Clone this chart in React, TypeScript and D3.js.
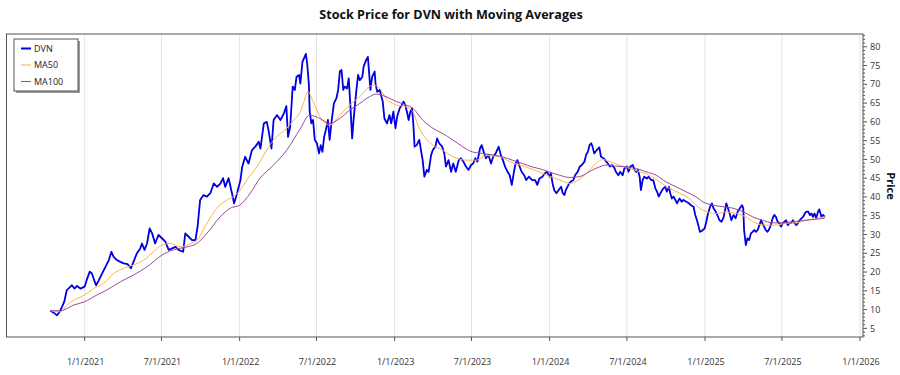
import React from 'react';
import * as d3 from 'd3';

const TITLE = 'Stock Price for DVN with Moving Averages';
const Y_TITLE = 'Price';
const X_DOMAIN = ['2020-07-01', '2026-01-08'];
const X_TICKS = ['2021-01-01', '2021-07-01', '2022-01-01', '2022-07-01', '2023-01-01', '2023-07-01', '2024-01-01', '2024-07-01', '2025-01-01', '2025-07-01', '2026-01-01'];
const Y_DOMAIN = [2.7, 83.4];
const Y_MAJOR = [5, 10, 15, 20, 25, 30, 35, 40, 45, 50, 55, 60, 65, 70, 75, 80];
const LEGEND_NAMES = ['DVN', 'MA50', 'MA100'];

const DVN: [string, number][] = [
  ['2020-10-12', 9.7], ['2020-10-20', 9.2], ['2020-10-28', 8.5], ['2020-11-03', 9.4], ['2020-11-09', 10.8],
  ['2020-11-14', 12.1], ['2020-11-20', 15.2], ['2020-11-27', 15.9], ['2020-12-02', 16.5], ['2020-12-08', 15.6],
  ['2020-12-14', 16.3], ['2020-12-22', 15.6], ['2021-01-01', 16.1], ['2021-01-06', 17.9], ['2021-01-13', 20.1],
  ['2021-01-18', 19.6], ['2021-01-24', 17.7], ['2021-01-28', 16.5], ['2021-02-03', 17.7], ['2021-02-11', 19.6],
  ['2021-02-19', 21.4], ['2021-02-27', 23.2], ['2021-03-05', 25.4], ['2021-03-10', 24.1], ['2021-03-18', 23.2],
  ['2021-03-26', 22.7], ['2021-04-03', 22.3], ['2021-04-12', 22.1], ['2021-04-20', 21.0], ['2021-04-26', 22.7],
  ['2021-05-04', 25.0], ['2021-05-12', 26.3], ['2021-05-16', 27.6], ['2021-05-22', 25.9], ['2021-05-28', 27.6],
  ['2021-06-03', 31.6], ['2021-06-09', 30.3], ['2021-06-16', 27.6], ['2021-06-24', 29.9], ['2021-07-02', 29.0],
  ['2021-07-10', 28.1], ['2021-07-18', 25.9], ['2021-07-26', 26.3], ['2021-08-03', 26.7], ['2021-08-10', 25.9],
  ['2021-08-21', 25.4], ['2021-08-26', 30.3], ['2021-09-03', 29.4], ['2021-09-11', 28.5], ['2021-09-19', 28.5],
  ['2021-09-24', 32.1], ['2021-09-30', 39.2], ['2021-10-08', 40.5], ['2021-10-16', 40.1], ['2021-10-24', 41.0],
  ['2021-11-01', 43.6], ['2021-11-09', 42.7], ['2021-11-17', 43.6], ['2021-11-23', 45.0], ['2021-11-28', 42.7],
  ['2021-12-06', 45.0], ['2021-12-14', 41.0], ['2021-12-19', 38.3], ['2021-12-26', 41.0], ['2022-01-03', 44.5],
  ['2022-01-07', 48.0], ['2022-01-14', 50.7], ['2022-01-22', 48.9], ['2022-01-30', 52.5], ['2022-02-07', 53.4],
  ['2022-02-15', 54.7], ['2022-02-19', 52.9], ['2022-02-27', 59.6], ['2022-03-06', 60.0], ['2022-03-10', 57.8],
  ['2022-03-17', 52.9], ['2022-03-22', 60.5], ['2022-03-30', 61.8], ['2022-04-07', 60.5], ['2022-04-15', 62.2],
  ['2022-04-21', 64.2], ['2022-04-25', 56.0], ['2022-04-30', 58.7], ['2022-05-06', 69.4], ['2022-05-11', 68.5],
  ['2022-05-15', 72.0], ['2022-05-21', 72.5], ['2022-05-24', 70.2], ['2022-05-29', 76.0], ['2022-06-06', 78.1],
  ['2022-06-09', 75.6], ['2022-06-13', 70.2], ['2022-06-15', 62.7], ['2022-06-19', 59.6], ['2022-06-23', 60.5],
  ['2022-06-27', 55.2], ['2022-07-02', 54.3], ['2022-07-07', 51.6], ['2022-07-11', 53.8], ['2022-07-15', 52.0],
  ['2022-07-19', 56.0], ['2022-07-23', 57.8], ['2022-07-28', 60.5], ['2022-08-01', 55.2], ['2022-08-05', 59.6],
  ['2022-08-11', 64.9], ['2022-08-17', 66.3], ['2022-08-21', 68.5], ['2022-08-25', 73.4], ['2022-08-29', 73.8],
  ['2022-09-02', 68.5], ['2022-09-05', 69.4], ['2022-09-11', 68.9], ['2022-09-15', 71.6], ['2022-09-19', 64.0],
  ['2022-09-23', 55.6], ['2022-09-27', 61.4], ['2022-10-03', 68.5], ['2022-10-07', 72.5], ['2022-10-11', 71.1],
  ['2022-10-17', 72.0], ['2022-10-20', 74.7], ['2022-10-26', 76.5], ['2022-10-30', 77.3], ['2022-11-02', 72.9],
  ['2022-11-05', 68.5], ['2022-11-09', 72.0], ['2022-11-15', 73.4], ['2022-11-17', 70.2], ['2022-11-21', 68.0],
  ['2022-11-27', 68.5], ['2022-11-30', 67.1], ['2022-12-04', 65.4], ['2022-12-08', 60.9], ['2022-12-14', 59.6],
  ['2022-12-20', 61.8], ['2022-12-24', 59.6], ['2022-12-29', 62.7], ['2023-01-03', 58.3], ['2023-01-07', 61.4],
  ['2023-01-13', 63.6], ['2023-01-18', 64.5], ['2023-01-22', 65.4], ['2023-01-26', 64.5], ['2023-01-30', 62.7],
  ['2023-02-03', 60.5], ['2023-02-07', 62.7], ['2023-02-11', 63.6], ['2023-02-14', 59.6], ['2023-02-17', 53.4],
  ['2023-02-22', 53.8], ['2023-02-28', 55.2], ['2023-03-04', 52.5], ['2023-03-08', 49.8], ['2023-03-12', 45.4],
  ['2023-03-18', 47.2], ['2023-03-22', 46.7], ['2023-03-28', 51.2], ['2023-04-01', 52.5], ['2023-04-07', 53.4],
  ['2023-04-11', 55.6], ['2023-04-16', 54.3], ['2023-04-23', 53.4], ['2023-04-28', 51.6], ['2023-05-02', 48.1],
  ['2023-05-08', 49.8], ['2023-05-14', 46.7], ['2023-05-19', 48.9], ['2023-05-25', 46.7], ['2023-06-01', 49.8],
  ['2023-06-06', 50.3], ['2023-06-12', 49.4], ['2023-06-18', 48.1], ['2023-06-24', 47.2], ['2023-06-30', 48.5],
  ['2023-07-05', 48.9], ['2023-07-10', 50.3], ['2023-07-15', 49.4], ['2023-07-21', 52.9], ['2023-07-25', 53.8],
  ['2023-07-31', 51.6], ['2023-08-04', 50.3], ['2023-08-10', 51.2], ['2023-08-16', 48.9], ['2023-08-21', 50.7],
  ['2023-08-27', 51.6], ['2023-09-03', 53.4], ['2023-09-08', 51.2], ['2023-09-13', 49.8], ['2023-09-18', 48.1],
  ['2023-09-24', 46.7], ['2023-09-29', 45.8], ['2023-10-04', 43.2], ['2023-10-09', 46.7], ['2023-10-13', 48.9],
  ['2023-10-17', 49.8], ['2023-10-21', 48.5], ['2023-10-27', 46.7], ['2023-11-02', 45.8], ['2023-11-07', 44.5],
  ['2023-11-13', 45.4], ['2023-11-21', 44.5], ['2023-11-28', 44.5], ['2023-12-03', 43.2], ['2023-12-08', 44.9],
  ['2023-12-15', 45.4], ['2023-12-21', 46.3], ['2023-12-26', 46.7], ['2024-01-01', 45.4], ['2024-01-04', 46.3],
  ['2024-01-08', 43.6], ['2024-01-12', 41.8], ['2024-01-17', 41.0], ['2024-01-22', 41.8], ['2024-01-28', 42.7],
  ['2024-02-01', 41.0], ['2024-02-05', 40.5], ['2024-02-08', 41.8], ['2024-02-12', 42.7], ['2024-02-16', 43.6],
  ['2024-02-20', 44.1], ['2024-02-26', 44.5], ['2024-03-01', 45.8], ['2024-03-07', 46.7], ['2024-03-12', 48.1],
  ['2024-03-17', 48.5], ['2024-03-23', 49.4], ['2024-03-27', 51.2], ['2024-03-31', 52.0], ['2024-04-04', 53.8],
  ['2024-04-08', 54.3], ['2024-04-11', 53.4], ['2024-04-15', 51.6], ['2024-04-21', 52.5], ['2024-04-27', 53.2],
  ['2024-05-01', 50.7], ['2024-05-07', 50.3], ['2024-05-11', 49.8], ['2024-05-17', 48.9], ['2024-05-22', 48.1],
  ['2024-05-27', 48.5], ['2024-06-02', 47.6], ['2024-06-05', 46.7], ['2024-06-11', 45.8], ['2024-06-15', 46.7],
  ['2024-06-21', 45.8], ['2024-06-25', 47.6], ['2024-07-01', 48.1], ['2024-07-05', 46.7], ['2024-07-09', 48.1],
  ['2024-07-15', 48.5], ['2024-07-19', 47.2], ['2024-07-23', 46.7], ['2024-07-27', 47.2], ['2024-07-31', 45.4],
  ['2024-08-03', 41.8], ['2024-08-07', 44.5], ['2024-08-11', 45.4], ['2024-08-17', 44.9], ['2024-08-21', 45.4],
  ['2024-08-27', 44.5], ['2024-09-01', 44.5], ['2024-09-06', 42.3], ['2024-09-10', 41.4], ['2024-09-14', 40.1],
  ['2024-09-18', 41.0], ['2024-09-22', 41.8], ['2024-09-25', 42.3], ['2024-09-29', 42.7], ['2024-10-03', 41.4],
  ['2024-10-08', 42.7], ['2024-10-11', 41.0], ['2024-10-15', 39.6], ['2024-10-19', 40.1], ['2024-10-23', 39.2],
  ['2024-10-27', 38.3], ['2024-11-02', 39.6], ['2024-11-07', 38.7], ['2024-11-11', 39.2], ['2024-11-18', 38.7],
  ['2024-11-24', 38.3], ['2024-11-29', 37.8], ['2024-12-05', 37.4], ['2024-12-09', 35.2], ['2024-12-13', 33.8],
  ['2024-12-17', 32.1], ['2024-12-20', 30.7], ['2024-12-25', 31.0], ['2024-12-31', 31.6], ['2025-01-04', 33.4],
  ['2025-01-08', 35.6], ['2025-01-13', 37.4], ['2025-01-17', 38.3], ['2025-01-21', 37.0], ['2025-01-26', 36.1],
  ['2025-01-30', 35.2], ['2025-02-04', 33.8], ['2025-02-09', 33.4], ['2025-02-14', 34.7], ['2025-02-18', 37.0],
  ['2025-02-20', 38.3], ['2025-02-24', 37.0], ['2025-02-28', 35.6], ['2025-03-04', 33.8], ['2025-03-09', 35.2],
  ['2025-03-14', 34.3], ['2025-03-19', 36.1], ['2025-03-24', 37.0], ['2025-03-29', 37.8], ['2025-04-01', 37.0],
  ['2025-04-03', 31.2], ['2025-04-07', 27.2], ['2025-04-11', 29.0], ['2025-04-15', 28.5], ['2025-04-19', 30.3],
  ['2025-04-23', 30.7], ['2025-04-27', 31.2], ['2025-05-01', 30.7], ['2025-05-05', 31.2], ['2025-05-09', 32.5],
  ['2025-05-13', 33.8], ['2025-05-16', 33.0], ['2025-05-20', 32.1], ['2025-05-24', 31.2], ['2025-05-28', 30.7],
  ['2025-06-01', 31.4], ['2025-06-05', 32.5], ['2025-06-09', 34.3], ['2025-06-13', 35.2], ['2025-06-17', 34.7],
  ['2025-06-21', 33.4], ['2025-06-25', 33.0], ['2025-06-29', 32.1], ['2025-07-03', 33.0], ['2025-07-07', 33.4],
  ['2025-07-11', 33.8], ['2025-07-15', 32.5], ['2025-07-19', 33.0], ['2025-07-23', 33.1], ['2025-07-27', 33.8],
  ['2025-07-31', 33.0], ['2025-08-04', 32.5], ['2025-08-08', 33.1], ['2025-08-12', 33.8], ['2025-08-16', 34.3],
  ['2025-08-20', 34.7], ['2025-08-24', 35.6], ['2025-08-28', 36.1], ['2025-09-01', 36.1], ['2025-09-05', 35.2],
  ['2025-09-09', 35.6], ['2025-09-12', 34.7], ['2025-09-16', 35.6], ['2025-09-20', 34.3], ['2025-09-24', 36.1],
  ['2025-09-27', 36.7], ['2025-09-30', 35.6], ['2025-10-02', 34.7], ['2025-10-06', 35.2], ['2025-10-10', 34.7],
];

const MA50: [string, number][] = [
  ['2020-10-12', 9.7], ['2020-11-05', 9.4], ['2020-11-20', 11.2], ['2020-12-06', 12.5], ['2021-01-01', 13.9],
  ['2021-01-22', 15.6], ['2021-02-15', 17.0], ['2021-03-10', 19.6], ['2021-04-03', 21.0], ['2021-04-26', 21.9],
  ['2021-05-20', 23.2], ['2021-06-12', 25.4], ['2021-07-02', 27.2], ['2021-07-22', 27.6], ['2021-08-14', 26.7],
  ['2021-09-07', 27.6], ['2021-09-22', 28.5], ['2021-10-16', 33.0], ['2021-11-08', 37.0], ['2021-12-02', 39.2],
  ['2021-12-18', 40.1], ['2022-01-02', 41.8], ['2022-01-18', 44.5], ['2022-02-11', 48.1], ['2022-03-06', 52.5],
  ['2022-03-22', 55.2], ['2022-04-07', 56.9], ['2022-04-22', 58.3], ['2022-05-08', 60.5], ['2022-05-24', 62.7],
  ['2022-05-31', 64.9], ['2022-06-11', 68.0], ['2022-06-23', 65.4], ['2022-07-09', 61.4], ['2022-08-01', 59.1],
  ['2022-08-25', 61.8], ['2022-09-17', 64.5], ['2022-10-11', 66.7], ['2022-11-03', 69.4], ['2022-11-11', 69.8],
  ['2022-11-27', 68.9], ['2022-12-12', 66.2], ['2023-01-05', 64.5], ['2023-01-28', 64.0], ['2023-02-13', 62.7],
  ['2023-02-28', 58.3], ['2023-03-16', 55.6], ['2023-04-01', 53.8], ['2023-04-24', 52.5], ['2023-05-11', 51.2],
  ['2023-06-19', 49.8], ['2023-07-13', 49.8], ['2023-08-05', 51.0], ['2023-09-06', 50.7], ['2023-09-29', 49.4],
  ['2023-10-23', 48.5], ['2023-11-23', 47.3], ['2023-12-25', 45.8], ['2024-01-25', 44.5], ['2024-02-18', 43.6],
  ['2024-03-04', 44.2], ['2024-03-28', 46.3], ['2024-04-20', 49.0], ['2024-05-05', 50.0], ['2024-05-21', 49.4],
  ['2024-06-13', 48.5], ['2024-07-07', 47.6], ['2024-07-31', 46.7], ['2024-08-23', 45.8], ['2024-09-16', 44.0],
  ['2024-10-09', 42.3], ['2024-11-02', 41.0], ['2024-11-25', 39.6], ['2024-12-19', 37.0], ['2025-01-04', 36.1],
  ['2025-01-27', 35.6], ['2025-02-20', 36.0], ['2025-03-16', 35.6], ['2025-04-07', 34.7], ['2025-05-01', 33.0],
  ['2025-05-24', 32.5], ['2025-06-17', 32.5], ['2025-07-11', 33.0], ['2025-08-04', 33.1], ['2025-08-28', 33.8],
  ['2025-09-20', 34.3], ['2025-10-10', 34.7],
];

const MA100: [string, number][] = [
  ['2020-10-12', 9.7], ['2020-11-05', 9.7], ['2020-12-06', 11.2], ['2021-01-01', 12.1], ['2021-01-30', 13.9],
  ['2021-02-22', 15.2], ['2021-03-26', 17.4], ['2021-04-26', 19.2], ['2021-05-28', 21.4], ['2021-07-02', 24.5],
  ['2021-07-29', 25.9], ['2021-08-30', 26.7], ['2021-09-22', 27.6], ['2021-10-16', 30.3], ['2021-11-16', 34.7],
  ['2021-12-10', 37.0], ['2022-01-01', 37.8], ['2022-01-26', 41.0], ['2022-02-18', 45.0], ['2022-03-22', 48.5],
  ['2022-04-22', 52.5], ['2022-05-23', 58.0], ['2022-06-15', 61.8], ['2022-07-09', 60.9], ['2022-08-01', 59.6],
  ['2022-08-25', 60.9], ['2022-09-17', 63.1], ['2022-10-11', 64.9], ['2022-11-03', 66.7], ['2022-11-19', 67.4],
  ['2022-12-12', 66.7], ['2023-01-05', 65.4], ['2023-01-28', 64.5], ['2023-02-13', 63.6], ['2023-03-08', 60.5],
  ['2023-04-01', 58.3], ['2023-04-24', 56.9], ['2023-05-18', 55.2], ['2023-06-10', 53.4], ['2023-07-03', 52.0],
  ['2023-07-27', 51.6], ['2023-08-19', 51.2], ['2023-09-12', 50.7], ['2023-10-05', 49.8], ['2023-10-29', 48.9],
  ['2023-11-21', 48.0], ['2023-12-15', 47.3], ['2023-12-30', 46.7], ['2024-01-24', 45.8], ['2024-02-16', 45.2],
  ['2024-03-11', 45.4], ['2024-04-03', 46.7], ['2024-04-27', 48.0], ['2024-05-13', 48.5], ['2024-06-05', 48.2],
  ['2024-06-29', 48.0], ['2024-07-23', 47.6], ['2024-08-15', 46.7], ['2024-09-08', 45.8], ['2024-10-01', 44.0],
  ['2024-10-25', 42.7], ['2024-11-17', 41.4], ['2024-12-11', 40.0], ['2024-12-27', 38.7], ['2025-01-20', 37.8],
  ['2025-02-12', 37.4], ['2025-03-08', 37.0], ['2025-03-31', 36.1], ['2025-04-23', 34.7], ['2025-05-16', 33.8],
  ['2025-06-09', 33.1], ['2025-07-03', 33.1], ['2025-07-26', 33.4], ['2025-08-19', 33.7], ['2025-09-12', 34.0],
  ['2025-10-10', 34.3],
];

const COLORS = { DVN: '#0000e0', MA50: '#f7b54a', MA100: '#984a98' };
const FONT = "'Open Sans', 'Noto Sans', sans-serif";

const W = 900;
const H = 375;
const PLOT = { left: 6.5, right: 863, top: 34, bottom: 337 };

const parse = d3.timeParse('%Y-%m-%d');
const fmt = d3.timeFormat('%-m/%-d/%Y');

export default function App() {
  const x = d3.scaleTime()
    .domain(X_DOMAIN.map((s) => parse(s) as Date))
    .range([PLOT.left, PLOT.right]);
  const y = d3.scaleLinear().domain(Y_DOMAIN).range([PLOT.bottom, PLOT.top]);

  const line = d3.line<[string, number]>()
    .x((d) => x(parse(d[0]) as Date))
    .y((d) => y(d[1]));
  const smooth = d3.line<[string, number]>()
    .x((d) => x(parse(d[0]) as Date))
    .y((d) => y(d[1]))
    .curve(d3.curveMonotoneX);

  const xTicks = X_TICKS.map((s) => parse(s) as Date);
  const minor = d3.range(Math.ceil(Y_DOMAIN[0]), Math.floor(Y_DOMAIN[1]) + 1);

  const legendColors = [COLORS.DVN, COLORS.MA50, COLORS.MA100];
  const legendWidths = [2, 1, 1];

  return (
    <svg width={W} height={H} style={{ position: 'absolute', left: 0, top: 0, background: '#fff' }} fontFamily={FONT}>
      <rect x={0} y={0} width={W} height={H} fill="#fff" />
      <text x={451} y={19} textAnchor="middle" fontSize={12.6} fontWeight="bold" fill="#111">{TITLE}</text>

      <defs>
        <clipPath id="plotclip">
          <rect x={PLOT.left} y={PLOT.top} width={PLOT.right - PLOT.left} height={PLOT.bottom - PLOT.top} />
        </clipPath>
      </defs>

      {xTicks.map((t, i) => (
        <line key={'g' + i} x1={x(t)} x2={x(t)} y1={PLOT.top} y2={PLOT.bottom} stroke="#e3e3e3" strokeWidth={1} />
      ))}

      <g clipPath="url(#plotclip)" fill="none" strokeLinejoin="round">
        <path d={line(DVN) || ''} stroke={COLORS.DVN} strokeWidth={1.8} />
        <path d={smooth(MA50) || ''} stroke={COLORS.MA50} strokeWidth={1} />
        <path d={smooth(MA100) || ''} stroke={COLORS.MA100} strokeWidth={1} />
      </g>

      <rect x={PLOT.left} y={PLOT.top} width={PLOT.right - PLOT.left} height={PLOT.bottom - PLOT.top} fill="none" stroke="#555" strokeWidth={1} />

      {xTicks.map((t, i) => (
        <g key={'xt' + i}>
          <line x1={x(t)} x2={x(t)} y1={PLOT.bottom} y2={PLOT.bottom + 4} stroke="#555" />
          <text x={x(t) + 1} y={365} textAnchor="middle" fontSize={9} fill="#333">{fmt(t)}</text>
        </g>
      ))}

      {minor.map((v) => (
        <line key={'m' + v} x1={PLOT.right} x2={PLOT.right + (v % 5 === 0 ? 4 : 2)} y1={y(v)} y2={y(v)} stroke="#555" />
      ))}
      {Y_MAJOR.map((v) => (
        <text key={'yl' + v} x={PLOT.right + 7} y={y(v)} dy="0.35em" fontSize={9} fill="#333">{v}</text>
      ))}
      <text transform={`translate(887, 186) rotate(90)`} textAnchor="middle" fontSize={11} fontWeight="bold" fill="#111">{Y_TITLE}</text>

      <g>
        <rect x={16} y={41} width={64} height={52} fill="#9a9a9a" />
        <rect x={14} y={39} width={64} height={52} fill="#fff" stroke="#555" />
        {LEGEND_NAMES.map((n, i) => (
          <g key={n}>
            <line x1={21} x2={31} y1={48.5 + i * 16.5} y2={48.5 + i * 16.5} stroke={legendColors[i]} strokeWidth={legendWidths[i]} />
            <text x={34} y={48.5 + i * 16.5} dy="0.35em" fontSize={9} fill="#222">{n}</text>
          </g>
        ))}
      </g>
    </svg>
  );
}
